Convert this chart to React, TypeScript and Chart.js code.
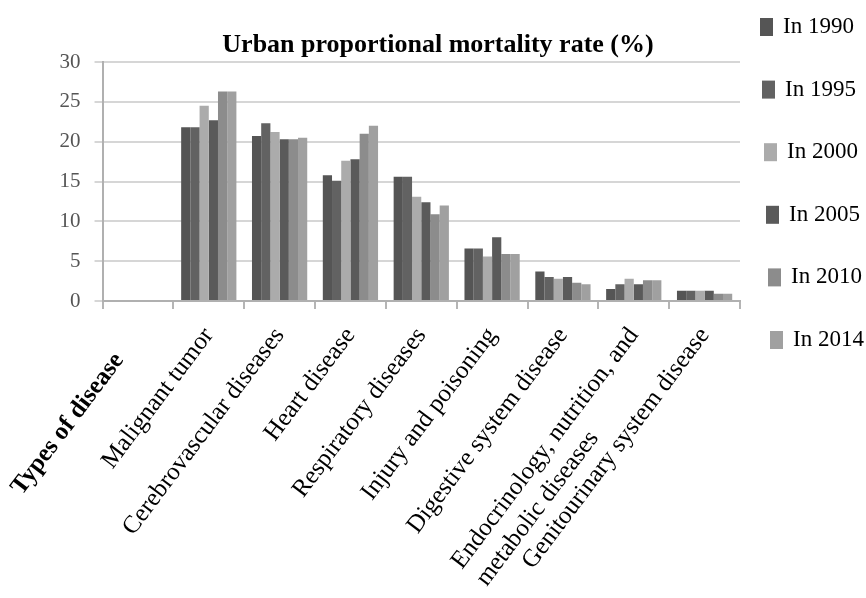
import React, { useEffect, useRef } from "react";
import { Chart, registerables } from "chart.js";

Chart.register(...registerables);

const chartTitle = "Urban proportional mortality rate (%)";

const categories: (string | string[])[] = [
  "Types of disease     ",
  "Malignant tumor",
  "Cerebrovascular diseases",
  "Heart disease",
  "Respiratory diseases",
  "Injury and poisoning",
  "Digestive system disease",
  ["Endocrinology, nutrition, and", "metabolic diseases                 "],
  "Genitourinary system disease",
];

const seriesLabels = ["In 1990", "In 1995", "In 2000", "In 2005", "In 2010", "In 2014"];

const y1990 = [null, 21.8, 20.7, 15.8, 15.6, 6.6, 3.7, 1.5, 1.3];
const y1995 = [null, 21.8, 22.3, 15.1, 15.6, 6.6, 3.0, 2.1, 1.3];
const y2000 = [null, 24.5, 21.2, 17.6, 13.1, 5.6, 2.8, 2.8, 1.3];
const y2005 = [null, 22.7, 20.3, 17.8, 12.4, 8.0, 3.0, 2.1, 1.3];
const y2010 = [null, 26.3, 20.3, 21.0, 10.9, 5.9, 2.3, 2.6, 0.9];
const y2014 = [null, 26.3, 20.5, 22.0, 12.0, 5.9, 2.1, 2.6, 0.9];

const seriesValues = [y1990, y1995, y2000, y2005, y2010, y2014];
const seriesColors = ["#555555", "#626262", "#ababab", "#5a5a5a", "#8c8c8c", "#a0a0a0"];

const yTickMin = 0;
const yTickMax = 30;
const yTickStep = 5;

const FONT = '"Liberation Serif", "Times New Roman", serif';

const decorations = {
  id: "decorations",
  afterDraw(chart: any) {
    const ctx = chart.ctx;
    ctx.save();
    // title
    ctx.font = `bold 26px ${FONT}`;
    ctx.textBaseline = "middle";
    ctx.textAlign = "center";
    ctx.fillStyle = "#000";
    ctx.fillText(chartTitle, 438, 45);
    // legend
    ctx.font = `23px ${FONT}`;
    ctx.textAlign = "left";
    chart.data.datasets.forEach((ds: any, i: number) => {
      const y = 27 + i * 62.6;
      const x = 760 + i * 2;
      ctx.fillStyle = ds.backgroundColor;
      ctx.fillRect(x, y - 9, 13, 18);
      ctx.fillStyle = "#000";
      ctx.fillText(ds.label, x + 23, y);
    });
    ctx.restore();
  },
};

export default function App() {
  const ref = useRef<HTMLCanvasElement | null>(null);
  useEffect(() => {
    if (!ref.current) return;
    const chart = new Chart(ref.current, {
      type: "bar",
      data: {
        labels: categories,
        datasets: seriesLabels.map((label, i) => ({
          label,
          data: seriesValues[i],
          backgroundColor: seriesColors[i],
          borderWidth: 0,
          categoryPercentage: 0.78,
          barPercentage: 1,
        })),
      },
      options: {
        animation: false,
        responsive: true,
        maintainAspectRatio: false,
        layout: { padding: { left: 8, right: 126, top: 62, bottom: 0 } },
        plugins: {
          legend: { display: false },
          tooltip: { enabled: false },
          title: { display: false },
        },
        scales: {
          x: {
            offset: true,
            afterFit: (scale: any) => {
              scale.height = 297;
            },
            grid: {
              display: true,
              offset: true,
              drawOnChartArea: false,
              drawTicks: true,
              tickLength: 8,
              color: "#b5b5b5",
              lineWidth: 2,
            },
            border: { color: "#b0b0b0", width: 2 },
            ticks: {
              autoSkip: false,
              maxRotation: 53,
              minRotation: 53,
              color: "#000",
              padding: 13,
              font: (c: any) =>
                c.index === 0
                  ? { family: FONT, size: 25, weight: "bold" }
                  : { family: FONT, size: 25, weight: "normal" },
            },
          },
          y: {
            min: yTickMin,
            max: yTickMax,
            grid: {
              color: "#d6d6d6",
              lineWidth: 2,
              tickLength: 8,
            },
            border: { color: "#b0b0b0", width: 2 },
            ticks: {
              stepSize: yTickStep,
              color: "#555",
              padding: 14,
              font: { family: FONT, size: 21 },
            },
          },
        },
      },
      plugins: [decorations],
    });
    return () => chart.destroy();
  }, []);
  return (
    <div style={{ position: "fixed", left: 0, top: 0, width: 866, height: 598, background: "#fff" }}>
      <canvas ref={ref} />
    </div>
  );
}
